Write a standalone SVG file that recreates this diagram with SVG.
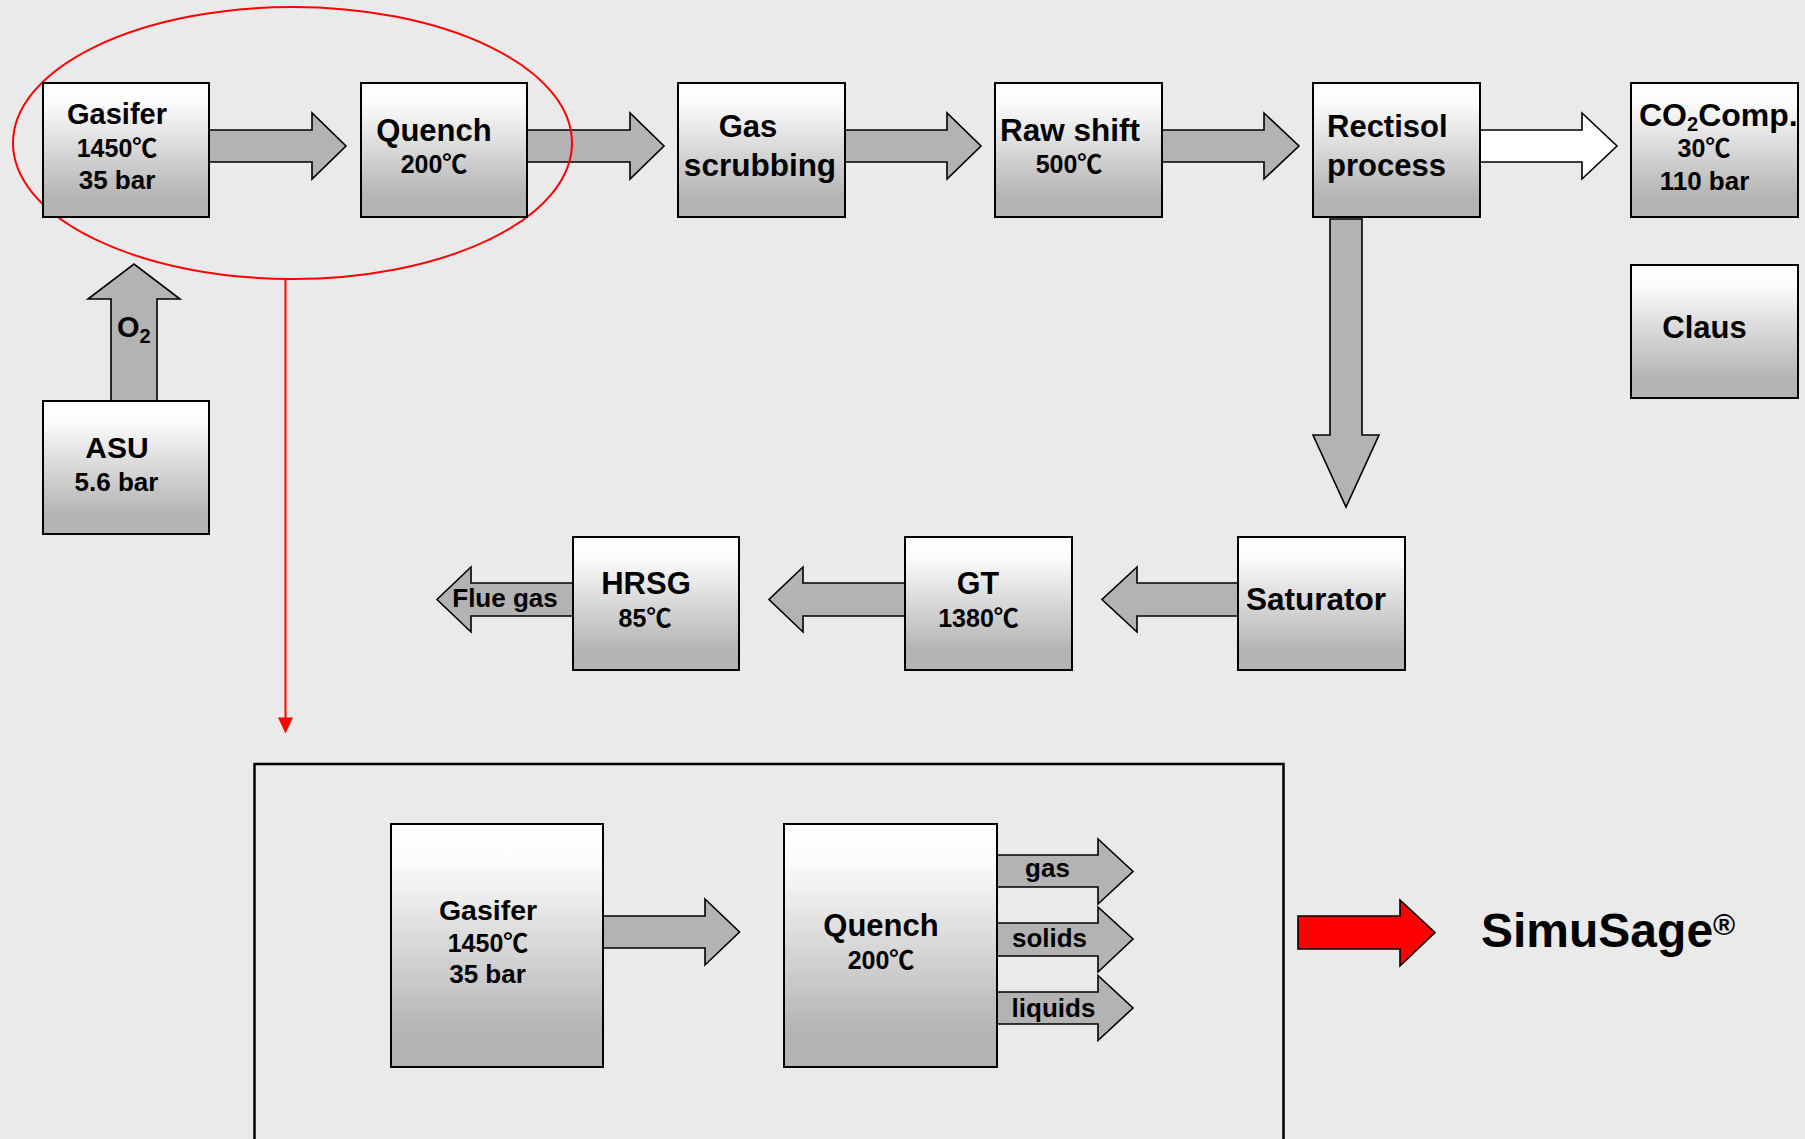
<svg xmlns="http://www.w3.org/2000/svg" width="1805" height="1139" viewBox="0 0 1805 1139">
<defs>
<linearGradient id="boxg" x1="0" y1="0" x2="0" y2="1">
<stop offset="0" stop-color="#ffffff"/>
<stop offset="0.15" stop-color="#fcfcfc"/>
<stop offset="0.85" stop-color="#b4b4b4"/>
<stop offset="1" stop-color="#b3b3b3"/>
</linearGradient>
</defs>
<style>
.box{fill:url(#boxg);stroke:#000;stroke-width:2}
.arr{fill:#b3b3b3;stroke:#000;stroke-width:1.6;stroke-linejoin:miter}
.warr{fill:#ffffff;stroke:#000;stroke-width:1.6}
.rarr{fill:#ff0000;stroke:#000;stroke-width:1.6}
text{font-family:"Liberation Sans",Arial,"Noto Sans CJK SC",sans-serif;font-weight:bold;fill:#000}
.m{text-anchor:middle}
.t31{font-size:31px}
.t29{font-size:29px}
.t25{font-size:25px}
.t26{font-size:26px}
</style>
<rect x="0" y="0" width="1805" height="1139" fill="#eaeaea"/>

<g id="connectors">
<polygon class="arr" points="209,130 312,130 312,113 346,146 312,179 312,162 209,162"/>
<polygon class="arr" points="527,130 630,130 630,113 664,146 630,179 630,162 527,162"/>
<polygon class="arr" points="845,130 947,130 947,113 981,146 947,179 947,162 845,162"/>
<polygon class="arr" points="1162,130 1264,130 1264,113 1299,146 1264,179 1264,162 1162,162"/>
<polygon class="warr" points="1480,130 1582,130 1582,113 1617,146 1582,179 1582,162 1480,162"/>
<polygon class="arr" points="111,401 111,299 88,299 134,264 180,299 157,299 157,401"/>
<polygon class="arr" points="1330,219 1362,219 1362,435 1379,435 1346,507 1313,435 1330,435"/>
<polygon class="arr" points="1238,583 1137,583 1137,567 1102,599.5 1137,632 1137,616 1238,616"/>
<polygon class="arr" points="905,583 803,583 803,567 769,599.5 803,632 803,616 905,616"/>
<polygon class="arr" points="573,583 471,583 471,567 437,599.5 471,632 471,616 573,616"/>
<polygon class="arr" points="603,916 705,916 705,899 739.5,932 705,965 705,948 603,948"/>
<polygon class="arr" points="997,855 1098,855 1098,839 1133,871.5 1098,904 1098,887 997,887"/>
<polygon class="arr" points="997,923 1098,923 1098,907 1133,939 1098,972 1098,956 997,956"/>
<polygon class="arr" points="997,992 1098,992 1098,975.5 1133,1008 1098,1040.5 1098,1024 997,1024"/>
<polygon class="rarr" points="1298,916 1400,916 1400,900 1435,932.5 1400,966 1400,949 1298,949"/>
<ellipse cx="292.5" cy="143" rx="279.5" ry="136" fill="none" stroke="#ff0000" stroke-width="2"/>
<line x1="285.5" y1="279" x2="285.5" y2="719" stroke="#ff0000" stroke-width="2"/>
<polygon points="278,717.5 293,717.5 285.5,733.5" fill="#ff0000"/>
</g>

<g id="gasifier">
<rect class="box" x="43" y="83" width="166" height="134"/>
<text class="m t29" x="117" y="124">Gasifer</text>
<text class="m t25" x="117" y="157">1450℃</text>
<text class="m t26" x="117" y="189">35 bar</text>
</g>
<g id="quench">
<rect class="box" x="361" y="83" width="166" height="134"/>
<text class="m t31" x="434" y="141">Quench</text>
<text class="m t25" x="434" y="173">200℃</text>
</g>
<g id="gas-scrubbing">
<rect class="box" x="678" y="83" width="167" height="134"/>
<text class="m t31" x="748" y="137">Gas</text>
<text class="m" x="760" y="176" font-size="31.5">scrubbing</text>
</g>
<g id="raw-shift">
<rect class="box" x="995" y="83" width="167" height="134"/>
<text class="m" x="1070" y="141" font-size="31.5">Raw shift</text>
<text class="m t25" x="1069" y="173">500℃</text>
</g>
<g id="rectisol">
<rect class="box" x="1313" y="83" width="167" height="134"/>
<text class="t31" x="1327" y="137">Rectisol</text>
<text class="t31" x="1327" y="176">process</text>
</g>
<g id="co2-comp">
<rect class="box" x="1631" y="83" width="167" height="134"/>
<text x="1639" y="126" font-size="32">CO<tspan font-size="20" dy="5">2</tspan><tspan dy="-5">Comp.</tspan></text>
<text class="m t25" x="1704" y="157">30℃</text>
<text class="m t26" x="1704.5" y="190">110 bar</text>
</g>
<g id="claus">
<rect class="box" x="1631" y="265" width="167" height="133"/>
<text class="m t31" x="1704.5" y="338">Claus</text>
</g>
<g id="asu">
<rect class="box" x="43" y="401" width="166" height="133"/>
<text class="m" x="117" y="458" font-size="30">ASU</text>
<text class="m t26" x="116.5" y="491">5.6 bar</text>
</g>
<g id="o2-label">
<text x="117" y="337" font-size="29">O<tspan font-size="20" dy="6">2</tspan></text>
</g>
<g id="saturator">
<rect class="box" x="1238" y="537" width="167" height="133"/>
<text class="m" x="1316" y="610" font-size="31.5">Saturator</text>
</g>
<g id="gt">
<rect class="box" x="905" y="537" width="167" height="133"/>
<text class="m" x="978" y="594" font-size="30.5">GT</text>
<text class="m t25" x="978.5" y="627">1380℃</text>
</g>
<g id="hrsg">
<rect class="box" x="573" y="537" width="166" height="133"/>
<text class="m t31" x="646" y="594">HRSG</text>
<text class="m t25" x="645" y="627">85℃</text>
</g>
<g id="flue-gas-label">
<text class="m t26" x="505" y="607">Flue gas</text>
</g>

<g id="detail-frame">
<rect x="254.5" y="764" width="1029" height="420" fill="none" stroke="#000" stroke-width="2.5"/>
</g>
<g id="detail-gasifier">
<rect class="box" x="391" y="824" width="212" height="243"/>
<text class="m" x="488" y="920" font-size="28.5">Gasifer</text>
<text class="m t25" x="488" y="952">1450℃</text>
<text class="m t26" x="487.5" y="983">35 bar</text>
</g>
<g id="detail-quench">
<rect class="box" x="784" y="824" width="213" height="243"/>
<text class="m t31" x="881" y="936">Quench</text>
<text class="m t25" x="881" y="969">200℃</text>
</g>
<g id="stream-labels">
<text class="m t26" x="1047.5" y="877">gas</text>
<text class="m t26" x="1049.5" y="947">solids</text>
<text class="m t26" x="1053.5" y="1017">liquids</text>
</g>
<g id="simusage">
<text x="1481" y="947" font-size="48">SimuSage<tspan font-size="30" dy="-12">®</tspan></text>
</g>
</svg>
